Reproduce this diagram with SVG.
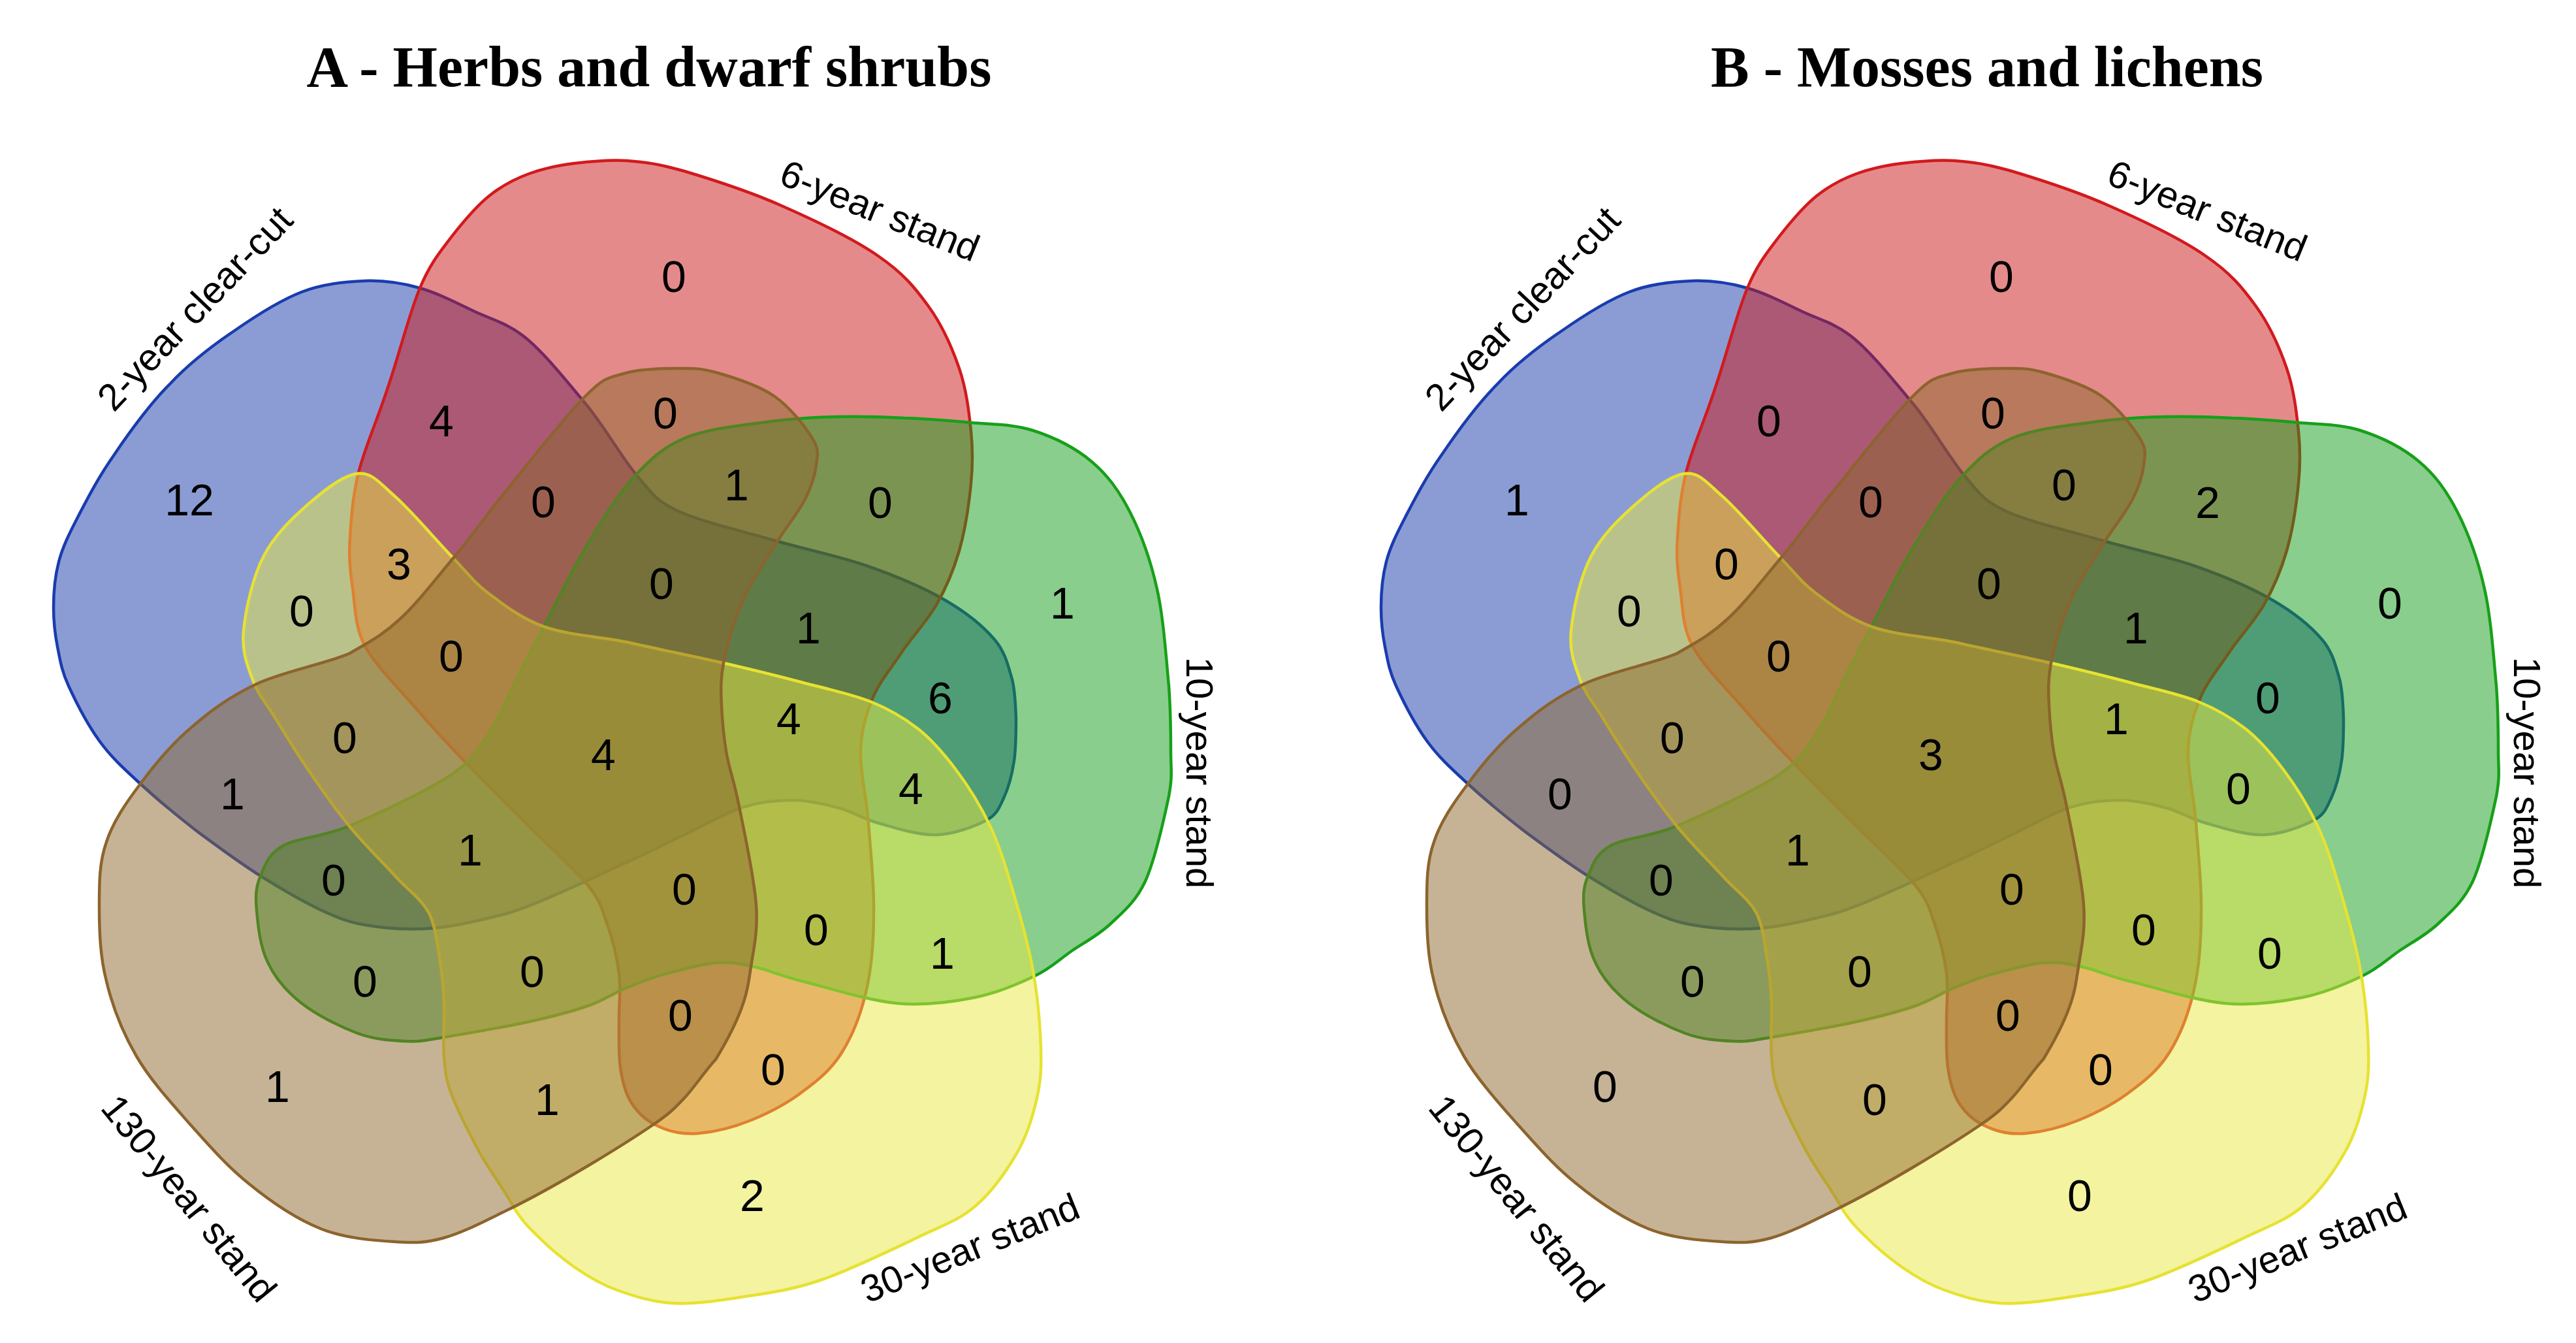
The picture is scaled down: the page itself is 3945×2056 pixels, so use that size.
<svg xmlns="http://www.w3.org/2000/svg" xmlns:xlink="http://www.w3.org/1999/xlink" width="3945" height="2056" viewBox="0 0 3945 2056">
<style>
.set{fill-opacity:0.5;stroke-width:4.5;stroke-linejoin:round}
.c-blue{fill:#1739a9;stroke:#1a3cae}
.c-red{fill:#cb1515;stroke:#d21a1e}
.c-green{fill:#139d19;stroke:#17a019}
.c-yellow{fill:#e9e741;stroke:#e6e232}
.c-brown{fill:#8d672d;stroke:#8c642d}
.lbl{font-family:"Liberation Sans",Arial,sans-serif;font-size:58px;fill:#000;text-anchor:middle}
.num{font-family:"Liberation Sans",Arial,sans-serif;font-size:68px;fill:#000;text-anchor:middle}
.title{font-family:"Liberation Serif","Times New Roman",serif;font-weight:bold;font-size:88px;fill:#000;text-anchor:middle}
</style>
<defs>
<path id="shapeBlue" d="M559,430 C589,429 615,433 643,441 C671,449 698,463 725,476 C752,489 777,494 806,518 C835,542 871,587 900,622 C928,657 954,703 977,730 C1000,757 1005,767 1040,783 C1075,799 1137,813 1185,827 C1233,841 1283,851 1327,866 C1370,881 1413,899 1446,918 C1479,937 1506,959 1523,979 C1540,999 1544,1020 1550,1040 C1555,1060 1555,1079 1556,1100 C1556,1121 1556,1145 1553,1165 C1550,1185 1544,1207 1537,1222 C1530,1237 1527,1247 1510,1256 C1493,1265 1461,1277 1434,1278 C1406,1279 1370,1267 1345,1260 C1320,1253 1307,1243 1285,1237 C1263,1231 1239,1225 1214,1225 C1189,1225 1165,1227 1137,1236 C1109,1245 1077,1264 1048,1278 C1018,1292 991,1306 960,1320 C929,1334 894,1351 864,1364 C834,1377 811,1388 778,1398 C744,1407 699,1418 663,1421 C626,1424 588,1421 559,1416 C530,1411 518,1405 491,1393 C464,1380 431,1361 399,1341 C367,1321 332,1295 301,1272 C270,1248 240,1223 215,1200 C190,1177 170,1159 152,1134 C134,1109 116,1074 105,1050 C94,1026 92,1010 88,990 C84,970 82,952 82,930 C82,908 84,883 90,860 C96,837 106,817 120,790 C134,763 151,730 175,696 C198,662 230,618 261,587 C291,555 324,530 358,507 C391,484 428,460 462,447 C495,434 529,431 559,430 Z"/>
<path id="shapeRed" d="M643,441 C659,403 673,387 691,363 C709,340 729,316 749,300 C769,284 788,274 810,266 C832,258 855,253 880,250 C905,247 932,244 960,246 C988,248 1009,251 1048,262 C1088,274 1148,293 1197,315 C1247,337 1308,366 1345,392 C1383,418 1401,440 1422,469 C1443,498 1458,532 1469,564 C1480,596 1484,631 1487,660 C1490,689 1490,710 1487,740 C1484,771 1478,812 1469,843 C1460,874 1449,900 1434,926 C1419,952 1396,976 1380,1000 C1364,1024 1346,1045 1336,1070 C1326,1095 1319,1118 1318,1150 C1317,1182 1327,1219 1330,1260 C1333,1301 1339,1355 1338,1397 C1338,1440 1335,1480 1327,1515 C1319,1551 1306,1584 1290,1610 C1274,1636 1255,1652 1232,1669 C1209,1687 1177,1704 1150,1715 C1123,1726 1093,1733 1070,1735 C1047,1737 1027,1733 1010,1725 C993,1718 978,1705 968,1690 C958,1675 953,1656 950,1634 C947,1612 948,1584 948,1560 C948,1536 951,1514 948,1490 C945,1466 938,1438 930,1415 C922,1393 921,1381 900,1355 C879,1329 838,1293 806,1261 C774,1229 738,1193 709,1163 C680,1133 659,1110 634,1081 C609,1052 575,1019 559,989 C543,959 544,928 540,900 C536,872 534,853 536,823 C538,793 540,758 550,720 C560,682 579,640 594,593 C610,547 627,479 643,441 Z"/>
<path id="shapeGreen" d="M749,1123 C766,1098 778,1066 792,1038 C806,1010 817,989 835,955 C853,921 877,870 900,833 C923,795 946,757 971,730 C996,703 1015,685 1048,671 C1081,657 1128,652 1167,647 C1206,641 1244,639 1280,638 C1316,637 1350,638 1385,640 C1419,641 1454,644 1487,647 C1520,650 1551,649 1582,659 C1613,669 1646,685 1671,706 C1696,727 1713,750 1730,783 C1747,816 1762,857 1772,902 C1782,946 1786,1009 1790,1050 C1793,1091 1793,1122 1793,1150 C1793,1178 1796,1186 1790,1219 C1783,1252 1769,1316 1754,1349 C1739,1381 1720,1396 1701,1414 C1682,1432 1660,1443 1641,1456 C1622,1469 1610,1482 1585,1494 C1560,1506 1528,1520 1493,1527 C1458,1534 1417,1540 1374,1536 C1330,1532 1268,1512 1232,1503 C1195,1494 1178,1485 1155,1480 C1132,1475 1119,1472 1096,1474 C1073,1476 1042,1485 1019,1491 C996,1497 980,1504 960,1512 C940,1520 926,1531 900,1540 C874,1549 843,1557 806,1565 C769,1573 710,1583 680,1588 C649,1593 645,1595 623,1594 C601,1593 575,1592 548,1582 C521,1572 485,1554 462,1536 C439,1518 421,1497 410,1473 C398,1449 395,1415 393,1393 C391,1371 392,1357 399,1341 C406,1325 410,1308 433,1295 C456,1282 493,1282 536,1264 C579,1246 655,1210 691,1186 C726,1162 732,1148 749,1123 Z"/>
<path id="shapeYellow" d="M548,725 C570,723 581,739 605,760 C629,781 667,826 691,851 C715,876 725,891 749,909 C773,927 800,948 835,960 C870,972 914,974 960,983 C1004,993 1064,1005 1108,1015 C1152,1025 1188,1034 1226,1044 C1263,1054 1303,1062 1333,1074 C1363,1086 1383,1098 1405,1115 C1427,1132 1444,1152 1463,1177 C1482,1202 1502,1234 1517,1266 C1532,1298 1541,1330 1552,1367 C1563,1404 1575,1446 1582,1486 C1589,1525 1593,1571 1594,1604 C1595,1636 1594,1654 1588,1681 C1582,1708 1574,1736 1558,1764 C1542,1792 1519,1825 1493,1847 C1467,1869 1443,1876 1404,1895 C1364,1914 1300,1945 1256,1960 C1212,1975 1178,1979 1140,1985 C1102,1991 1062,1997 1030,1995 C997,1993 970,1984 945,1975 C920,1966 900,1954 880,1940 C860,1926 838,1907 823,1892 C808,1877 804,1874 789,1852 C773,1822 748,1790 732,1760 C716,1730 700,1698 691,1674 C682,1650 682,1640 680,1617 C678,1594 681,1560 680,1536 C679,1512 678,1496 674,1473 C670,1450 668,1420 657,1398 C645,1376 625,1363 605,1341 C585,1319 558,1293 536,1266 C514,1239 492,1208 473,1180 C454,1152 436,1123 422,1100 C408,1077 395,1063 387,1041 C379,1019 370,998 373,966 C376,934 387,883 404,851 C421,818 449,792 473,771 C497,750 526,727 548,725 Z"/>
<path id="shapeBrown" d="M215,1200 C237,1170 265,1137 295,1112 C325,1086 353,1066 393,1047 C433,1028 500,1016 536,1000 C563,984 584,974 611,949 C639,924 669,884 697,851 C725,818 744,789 778,748 C811,707 868,634 898,605 C927,576 932,579 955,572 C978,565 1012,564 1036,564 C1059,564 1071,563 1096,570 C1121,577 1160,589 1185,606 C1210,623 1233,653 1244,671 C1255,689 1252,696 1250,712 C1248,728 1243,745 1232,766 C1221,787 1201,811 1185,837 C1169,863 1150,890 1137,920 C1124,950 1113,988 1108,1015 C1103,1042 1104,1057 1105,1080 C1106,1102 1108,1125 1112,1150 C1116,1175 1123,1191 1131,1230 C1139,1269 1155,1343 1158,1385 C1161,1427 1154,1453 1150,1480 C1146,1507 1144,1521 1135,1545 C1126,1569 1110,1599 1096,1622 C1080,1639 1064,1664 1048,1681 C1032,1698 1025,1705 1000,1722 C975,1739 937,1763 900,1785 C863,1807 815,1834 778,1852 C741,1870 709,1887 680,1895 C651,1903 636,1903 605,1901 C573,1899 528,1896 491,1881 C454,1866 414,1839 381,1812 C347,1785 319,1752 290,1720 C261,1687 230,1653 209,1617 C188,1581 172,1540 163,1502 C153,1464 152,1422 152,1387 C152,1351 152,1320 163,1289 C173,1258 193,1229 215,1200 Z"/>
</defs>
<rect width="3945" height="2056" fill="#fff"/>
<text class="title" x="994" y="132">A - Herbs and dwarf shrubs</text>
<text class="title" x="3043" y="132">B - Mosses and lichens</text>

<g id="panelA">
<g id="A-set-2yr"><use xlink:href="#shapeBlue" class="set c-blue"/></g>
<g id="A-set-6yr"><use xlink:href="#shapeRed" class="set c-red"/></g>
<g id="A-set-10yr"><use xlink:href="#shapeGreen" class="set c-green"/></g>
<g id="A-set-30yr"><use xlink:href="#shapeYellow" class="set c-yellow"/></g>
<g id="A-set-130yr"><use xlink:href="#shapeBrown" class="set c-brown"/></g>
<g id="A-labels">
<text class="lbl" transform="translate(313,486) rotate(-46.5)">2-year clear-cut</text>
<text class="lbl" transform="translate(1340,341) rotate(22)">6-year stand</text>
<text class="lbl" transform="translate(1817,1183) rotate(90)">10-year stand</text>
<text class="lbl" transform="translate(1493,1929) rotate(-22)">30-year stand</text>
<text class="lbl" transform="translate(274,1847) rotate(51)">130-year stand</text>
</g>
<g id="A-counts">
<text class="num" x="1032" y="447">0</text>
<text class="num" x="676" y="668">4</text>
<text class="num" x="290" y="789">12</text>
<text class="num" x="1019" y="656">0</text>
<text class="num" x="1128" y="766">1</text>
<text class="num" x="1348" y="793">0</text>
<text class="num" x="1627" y="947">1</text>
<text class="num" x="832" y="792">0</text>
<text class="num" x="611" y="887">3</text>
<text class="num" x="462" y="959">0</text>
<text class="num" x="1013" y="917">0</text>
<text class="num" x="1238" y="985">1</text>
<text class="num" x="1440" y="1092">6</text>
<text class="num" x="691" y="1028">0</text>
<text class="num" x="528" y="1153">0</text>
<text class="num" x="924" y="1179">4</text>
<text class="num" x="1208" y="1124">4</text>
<text class="num" x="1395" y="1231">4</text>
<text class="num" x="356" y="1239">1</text>
<text class="num" x="720" y="1325">1</text>
<text class="num" x="511" y="1371">0</text>
<text class="num" x="1048" y="1385">0</text>
<text class="num" x="1250" y="1447">0</text>
<text class="num" x="1443" y="1483">1</text>
<text class="num" x="559" y="1526">0</text>
<text class="num" x="815" y="1511">0</text>
<text class="num" x="1042" y="1578">0</text>
<text class="num" x="1184" y="1661">0</text>
<text class="num" x="425" y="1687">1</text>
<text class="num" x="838" y="1707">1</text>
<text class="num" x="1152" y="1854">2</text>
</g>
</g>

<g id="panelB" transform="translate(2033,0)">
<g id="B-set-2yr"><use xlink:href="#shapeBlue" class="set c-blue"/></g>
<g id="B-set-6yr"><use xlink:href="#shapeRed" class="set c-red"/></g>
<g id="B-set-10yr"><use xlink:href="#shapeGreen" class="set c-green"/></g>
<g id="B-set-30yr"><use xlink:href="#shapeYellow" class="set c-yellow"/></g>
<g id="B-set-130yr"><use xlink:href="#shapeBrown" class="set c-brown"/></g>
<g id="B-labels">
<text class="lbl" transform="translate(313,486) rotate(-46.5)">2-year clear-cut</text>
<text class="lbl" transform="translate(1340,341) rotate(22)">6-year stand</text>
<text class="lbl" transform="translate(1817,1183) rotate(90)">10-year stand</text>
<text class="lbl" transform="translate(1493,1929) rotate(-22)">30-year stand</text>
<text class="lbl" transform="translate(274,1847) rotate(51)">130-year stand</text>
</g>
<g id="B-counts">
<text class="num" x="1032" y="447">0</text>
<text class="num" x="676" y="668">0</text>
<text class="num" x="290" y="789">1</text>
<text class="num" x="1019" y="656">0</text>
<text class="num" x="1128" y="766">0</text>
<text class="num" x="1348" y="793">2</text>
<text class="num" x="1627" y="947">0</text>
<text class="num" x="832" y="792">0</text>
<text class="num" x="611" y="887">0</text>
<text class="num" x="462" y="959">0</text>
<text class="num" x="1013" y="917">0</text>
<text class="num" x="1238" y="985">1</text>
<text class="num" x="1440" y="1092">0</text>
<text class="num" x="691" y="1028">0</text>
<text class="num" x="528" y="1153">0</text>
<text class="num" x="924" y="1179">3</text>
<text class="num" x="1208" y="1124">1</text>
<text class="num" x="1395" y="1231">0</text>
<text class="num" x="356" y="1239">0</text>
<text class="num" x="720" y="1325">1</text>
<text class="num" x="511" y="1371">0</text>
<text class="num" x="1048" y="1385">0</text>
<text class="num" x="1250" y="1447">0</text>
<text class="num" x="1443" y="1483">0</text>
<text class="num" x="559" y="1526">0</text>
<text class="num" x="815" y="1511">0</text>
<text class="num" x="1042" y="1578">0</text>
<text class="num" x="1184" y="1661">0</text>
<text class="num" x="425" y="1687">0</text>
<text class="num" x="838" y="1707">0</text>
<text class="num" x="1152" y="1854">0</text>
</g>
</g>
</svg>
